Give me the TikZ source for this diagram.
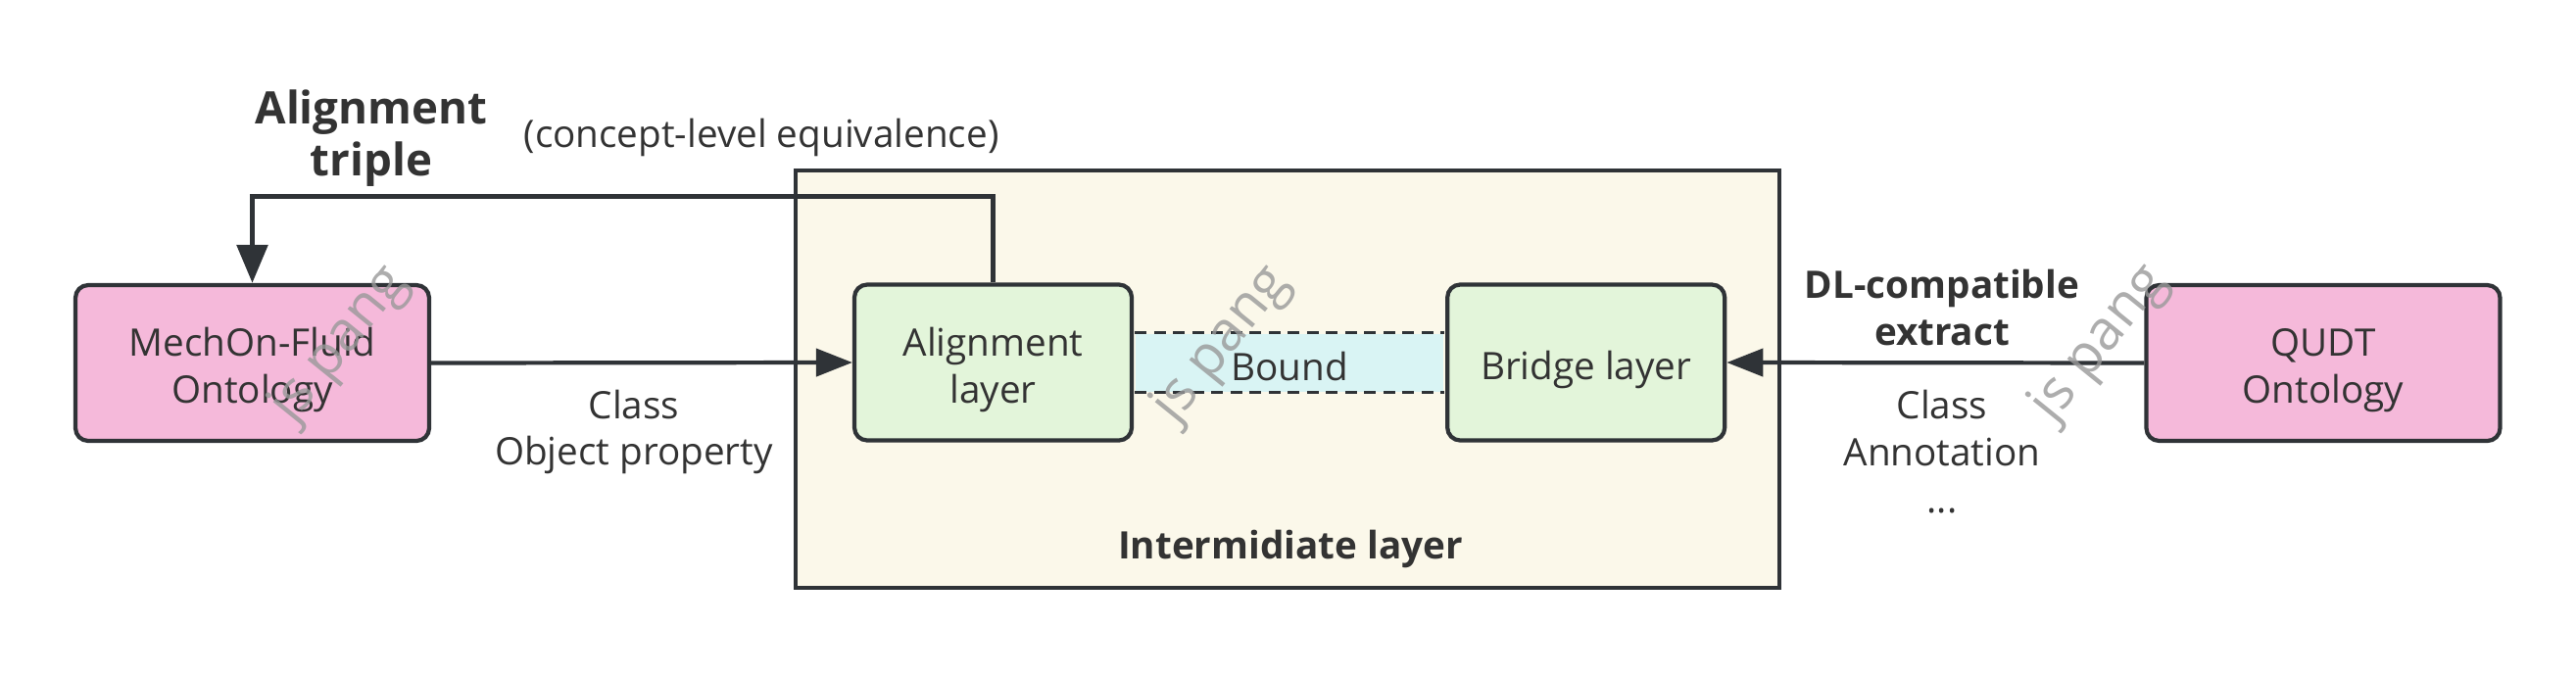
\documentclass[tikz,border=0pt]{standalone}
\usepackage{fontspec}
\setmainfont{Open Sans}
\usetikzlibrary{positioning,arrows.meta,calc}

\definecolor{txtgray}{HTML}{333333}
\definecolor{linegray}{HTML}{2F3337}
\definecolor{ontopink}{HTML}{F5B9DA}
\definecolor{layergreen}{HTML}{E3F5DA}
\definecolor{boundcyan}{HTML}{D9F4F4}
\definecolor{intercream}{HTML}{FBF8EA}

\newcommand{\lowstrut}[1][12.4pt]{\rule{0pt}{#1}}

\tikzset{
  onto/.style={draw=linegray, fill=ontopink, rounded corners=1.3mm, line width=1.2pt,
    minimum width=3.61cm, minimum height=1.59cm, align=center},
  layer/.style={draw=linegray, fill=layergreen, rounded corners=1.3mm, line width=1.2pt,
    minimum width=2.83cm, minimum height=1.59cm, align=center},
  conn/.style={draw=linegray, line width=1.2pt, -{Triangle[length=3.7mm,width=2.8mm]}},
  boldlbl/.style={align=center, font=\bfseries\fontsize{11}{13.6}\selectfont},
  wmark/.style={text=black!40, opacity=0.8, rotate=51, font=\fontsize{16}{19}\selectfont}
}

\begin{document}
\begin{tikzpicture}[every node/.style={text=txtgray, font=\fontsize{11}{13.6}\selectfont}]
  \useasboundingbox (0,0) rectangle (26.29,-6.90);

  \node [draw=linegray, fill=intercream, line width=1.2pt, minimum width=10.04cm,
    minimum height=4.26cm] (inter) at (13.14,-3.87) {};
  \node [boldlbl] (interlbl) at (13.17,-5.60) {Intermidiate layer};

  \node [onto] (mech) at (2.575,-3.705) {\lowstrut MechOn-Fluid\\Ontology};
  \node [layer] (align) at (10.135,-3.70) {\lowstrut Alignment\\layer};
  \node [layer, right=3.18cm of align] (bridge) {\lowstrut Bridge layer};
  \node [onto] (qudt) at (23.71,-3.705) {\lowstrut QUDT\\Ontology};

  \node [fill=boundcyan, inner sep=0pt, minimum width=3.14cm, minimum height=0.59cm]
    (bound) at ($(align.east)!0.5!(bridge.west)$) {\lowstrut[10.6pt]Bound};
  \draw [linegray, line width=0.9pt, dash pattern=on 1.2mm off 0.75mm]
    (bound.north west) -- (bound.north east) (bound.south west) -- (bound.south east);

  \draw [conn] (mech.east) -- (align.west);
  \draw [conn] (qudt.west) -- (bridge.east);
  \draw [conn, line width=1.6pt, -{Triangle[length=3.9mm,width=3.1mm]}]
    (align.north) -- ++(0,0.88) -| (mech.north);

  \node [align=center, font=\bfseries\fontsize{13}{15}\selectfont] (triple) at (3.79,-1.41) {Alignment\\triple};
  \node (equiv) at (7.77,-1.40) {(concept-level equivalence)};
  \node [align=center] (mclass) at (6.47,-4.41) {Class\\Object property};
  \node [boldlbl] (dlx) at (19.82,-3.14) {DL-compatible\\extract};
  \node [align=center] (qclass) at (19.82,-4.61) {Class\\Annotation\\...};

  \node [wmark] (wm1) at (3.47,-3.52) {js pang};
  \node [wmark] (wm2) at (12.47,-3.52) {js pang};
  \node [wmark] (wm3) at (21.43,-3.51) {js pang};
\end{tikzpicture}
\end{document}
